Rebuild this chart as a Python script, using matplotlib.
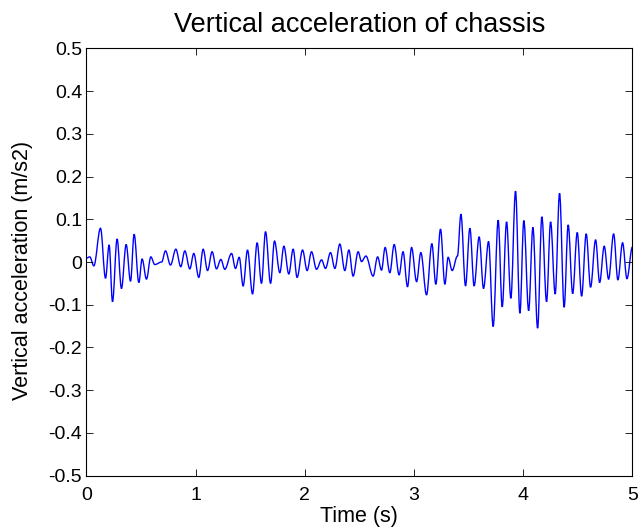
import matplotlib
matplotlib.use("Agg")
import matplotlib.pyplot as plt
from matplotlib.path import Path
from matplotlib.patches import PathPatch

# local peaks and troughs (time in s, acceleration in m/s2)
t_ext = [0.0, 0.032, 0.069, 0.13, 0.176, 0.209, 0.24, 0.282, 0.322, 0.365, 0.405,
         0.438, 0.481, 0.511, 0.551, 0.591, 0.627, 0.69, 0.725, 0.771, 0.82,
         0.865, 0.902, 0.948, 0.984, 1.03, 1.07, 1.11, 1.152, 1.192, 1.232,
         1.268, 1.33, 1.366, 1.40, 1.436, 1.476, 1.522, 1.564, 1.604, 1.641,
         1.687, 1.723, 1.772, 1.809, 1.854, 1.894, 1.93, 1.98, 2.022, 2.062,
         2.108, 2.154, 2.19, 2.236, 2.276, 2.321, 2.367, 2.404, 2.443, 2.489,
         2.52, 2.56, 2.626, 2.667, 2.703, 2.736, 2.779, 2.819, 2.864, 2.90,
         2.941, 2.978, 3.024, 3.063, 3.115, 3.164, 3.20, 3.243, 3.283, 3.313,
         3.35, 3.398, 3.43, 3.472, 3.512, 3.551, 3.597, 3.637, 3.683, 3.725,
         3.771, 3.808, 3.848, 3.887, 3.93, 3.97, 4.006, 4.05, 4.089, 4.132,
         4.171, 4.214, 4.251, 4.293, 4.333, 4.375, 4.412, 4.453, 4.495, 4.535,
         4.577, 4.617, 4.663, 4.70, 4.742, 4.782, 4.828, 4.867, 4.91, 4.95, 5.0]
a_ext = [0.009, 0.012, -0.009, 0.079, -0.038, 0.040, -0.093, 0.054, -0.062, 0.041, -0.045,
         0.065, -0.048, 0.007, -0.040, 0.012, -0.006, 0.000, 0.026, -0.007, 0.030,
         -0.011, 0.026, -0.016, 0.020, -0.036, 0.030, -0.020, 0.024, -0.016, 0.006,
         -0.017, 0.020, -0.015, 0.011, -0.056, 0.028, -0.075, 0.045, -0.050, 0.071,
         -0.050, 0.049, -0.025, 0.037, -0.028, 0.030, -0.036, 0.028, -0.020, 0.024,
         -0.017, 0.005, -0.015, 0.022, -0.015, 0.042, -0.020, 0.028, -0.033, 0.024,
         0.001, 0.014, -0.033, 0.012, -0.019, 0.034, -0.025, 0.041, -0.030, 0.024,
         -0.058, 0.034, -0.046, 0.022, -0.077, 0.043, -0.052, 0.077, -0.052, 0.011,
         -0.020, 0.014, 0.112, -0.056, 0.079, -0.056, 0.059, -0.062, 0.048, -0.151,
         0.098, -0.105, 0.094, -0.085, 0.166, -0.120, 0.097, -0.114, 0.081, -0.155,
         0.106, -0.093, 0.094, -0.075, 0.161, -0.106, 0.087, -0.074, 0.069, -0.080,
         0.066, -0.059, 0.052, -0.048, 0.037, -0.040, 0.066, -0.042, 0.045, -0.039, 0.035]

x_ticks = [0, 1, 2, 3, 4, 5]
y_ticks = [-0.5, -0.4, -0.3, -0.2, -0.1, 0, 0.1, 0.2, 0.3, 0.4, 0.5]
y_labels = ["-0.5", "-0.4", "-0.3", "-0.2", "-0.1", "0", "0.1", "0.2", "0.3", "0.4", "0.5"]

plt.rcParams['font.family'] = ['Liberation Sans', 'DejaVu Sans']

fig = plt.figure(figsize=(6.44, 5.32), dpi=100)
ax = fig.add_axes([0.134, 0.106, 0.848, 0.803])

# smooth curve through the extrema: cubic segments with flat tangents at each peak
k = 0.36
verts = [(t_ext[0], a_ext[0])]
codes = [Path.MOVETO]
for i in range(len(t_ext) - 1):
    t0, a0, t1, a1 = t_ext[i], a_ext[i], t_ext[i + 1], a_ext[i + 1]
    dt = t1 - t0
    verts += [(t0 + k * dt, a0), (t1 - k * dt, a1), (t1, a1)]
    codes += [Path.CURVE4] * 3
ax.add_patch(PathPatch(Path(verts, codes), facecolor='none', edgecolor='#0000ff', lw=1.0))

ax.set_xlim(0, 5)
ax.set_ylim(-0.5, 0.5)
ax.set_xticks(x_ticks)
ax.set_xticklabels([str(v) for v in x_ticks])
ax.set_yticks(y_ticks)
ax.set_yticklabels(y_labels)
ax.tick_params(direction='in', top=True, right=True, length=5, width=0.6, labelsize=14)
ax.tick_params(axis='x', pad=8)
ax.tick_params(axis='y', pad=3)
for s in ax.spines.values():
    s.set_linewidth(0.8)

ax.set_title("Vertical acceleration of chassis", fontsize=19.5, pad=12)
ax.set_xlabel("Time (s)", fontsize=15.5, labelpad=2)
ax.set_ylabel("Vertical acceleration (m/s2)", fontsize=15.5)
ax.yaxis.set_label_coords(-0.097, 0.48)

fig.savefig("out.png", dpi=100)
